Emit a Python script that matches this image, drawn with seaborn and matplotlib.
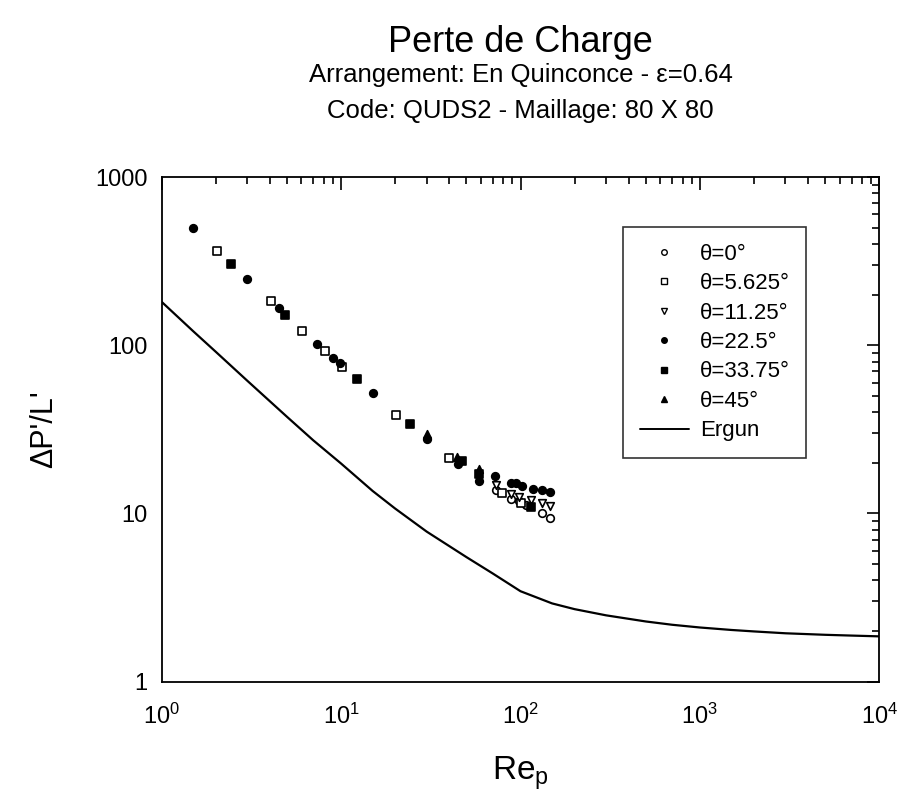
import matplotlib
matplotlib.use("Agg")
import matplotlib.pyplot as plt
import seaborn as sns
import pandas as pd
from matplotlib.ticker import LogLocator, FixedLocator, FixedFormatter, NullFormatter

sns.set_theme(style="white")
FAM = ['Liberation Sans', 'DejaVu Sans']
plt.rcParams['font.family'] = FAM
plt.rcParams['mathtext.fontset'] = 'custom'
plt.rcParams['mathtext.rm'] = 'Liberation Sans'
for k in ['text.color', 'axes.labelcolor', 'xtick.color', 'ytick.color']:
    plt.rcParams[k] = 'black'

# ---- data ----
labels = ["θ=0°", "θ=5.625°", "θ=11.25°", "θ=22.5°", "θ=33.75°", "θ=45°"]

re_t0 = [72.6, 88, 98.7, 107, 131, 146]
dp_t0 = [13.7, 12.2, 11.8, 11.3, 10.0, 9.4]

re_t5 = [2.04, 4.08, 6.07, 8.18, 10.1, 20.2, 40, 79, 100]
dp_t5 = [362, 182, 121, 92, 74.5, 38.6, 21.3, 13.3, 11.6]

re_t11 = [72.6, 88, 98.7, 115, 131, 146]
dp_t11 = [14.7, 13.0, 12.5, 12.0, 11.6, 11.1]

re_t22 = [1.5, 3.0, 4.5, 7.3, 9.0, 9.8, 15, 30, 45, 59, 72, 88, 94, 102, 117, 131, 146]
dp_t22 = [500, 247, 166, 102, 84, 78, 52, 27.6, 19.6, 15.7, 16.8, 15.2, 15.1, 14.5, 13.9, 13.7, 13.4]

re_t33 = [2.43, 4.88, 12.2, 24.3, 47.4, 59, 115]
dp_t33 = [305, 152, 63, 33.9, 20.6, 17.1, 10.9]

re_t45 = [30, 44, 59]
dp_t45 = [29.5, 21.8, 18.5]

re_ergun = [1, 1.5, 2, 3, 5, 7, 10, 15, 20, 30, 50, 70, 100, 150, 200, 300, 500, 700,
            1000, 1500, 2000, 3000, 5000, 7000, 10000]
dp_ergun = [181, 121, 91.5, 61.5, 37.5, 27.2, 19.8, 13.6, 10.7, 7.8, 5.5, 4.4, 3.45, 2.92,
            2.7, 2.48, 2.28, 2.18, 2.1, 2.03, 1.99, 1.94, 1.9, 1.88, 1.86]

series = [
    (re_t0, dp_t0, 'o', 'white'),
    (re_t5, dp_t5, 's', 'white'),
    (re_t11, dp_t11, 'v', 'white'),
    (re_t22, dp_t22, 'o', 'black'),
    (re_t33, dp_t33, 's', 'black'),
    (re_t45, dp_t45, '^', 'black'),
]

fig = plt.figure(figsize=(8.98, 8.07), dpi=100)
ax = fig.add_axes([161.7 / 898, 1 - 681.7 / 807, (879.3 - 161.7) / 898, (681.7 - 177) / 807])

ax.set_xscale('log')
ax.set_yscale('log')

df_e = pd.DataFrame({'Re': re_ergun, 'dp': dp_ergun})
sns.lineplot(data=df_e, x='Re', y='dp', ax=ax, color='black', linewidth=1.6, legend=False)

handles = []
for (xs, ys, m, fc), lab in zip(series, labels):
    d = pd.DataFrame({'Re': xs, 'dp': ys})
    sns.scatterplot(data=d, x='Re', y='dp', ax=ax, marker=m, s=30, facecolor=fc,
                    edgecolor='black', linewidth=1.2, legend=False, zorder=3)
    h = plt.Line2D([], [], linestyle='none', marker=m, markersize=4,
                   markerfacecolor=fc, markeredgecolor='black', markeredgewidth=1.0)
    handles.append((h, lab))

ergun_h = plt.Line2D([], [], color='black', linewidth=1.4)
handles.append((ergun_h, 'Ergun'))

ax.set_xlim(1, 1e4)
ax.set_ylim(1, 1000)

ax.xaxis.set_major_locator(LogLocator(base=10, numticks=10))
ax.xaxis.set_minor_locator(LogLocator(base=10, subs=range(2, 10), numticks=100))
ax.yaxis.set_major_locator(FixedLocator([1, 10, 100, 1000]))
ax.yaxis.set_major_formatter(FixedFormatter(['1', '10', '100', '1000']))
ax.yaxis.set_minor_locator(LogLocator(base=10, subs=range(2, 10), numticks=100))
ax.yaxis.set_minor_formatter(NullFormatter())
ax.xaxis.set_minor_formatter(NullFormatter())

ax.tick_params(which='both', direction='in', top=True, right=True, colors='black',
               labelsize=17, width=1.2)
ax.tick_params(which='major', length=9)
ax.tick_params(axis='x', which='major', pad=16)
ax.tick_params(axis='y', which='major', pad=10)
ax.tick_params(which='minor', length=5)
for s in ax.spines.values():
    s.set_color('black')
    s.set_linewidth(1.3)
ax.set_facecolor('white')
ax.grid(False)

ax.set_xlabel('Re$_\\mathregular{p}$', fontsize=24, labelpad=18)
ax.set_ylabel("ΔP'/L'", fontsize=22, labelpad=26)

leg = ax.legend([h for h, _ in handles], [l for _, l in handles],
                loc='upper left', bbox_to_anchor=((623 - 161.7) / (879.3 - 161.7), 1 - (227 - 177) / (681.7 - 177)),
                frameon=True, fancybox=False, edgecolor='black', fontsize=16,
                handlelength=2.2, handletextpad=0.5, labelspacing=0.38, borderpad=0.75,
                borderaxespad=0)
leg.get_frame().set_linewidth(1.2)

cx = (161.7 + 879.3) / 2 / 898
fig.text(cx, 1 - 42 / 807, 'Perte de Charge', ha='center', va='center', fontsize=26)
fig.text(cx, 1 - 75 / 807, 'Arrangement: En Quinconce - ε=0.64', ha='center', va='center', fontsize=18.5)
fig.text(cx, 1 - 111 / 807, 'Code: QUDS2 - Maillage: 80 X 80', ha='center', va='center', fontsize=18.5)

fig.savefig('out.png', dpi=100, facecolor='white')
